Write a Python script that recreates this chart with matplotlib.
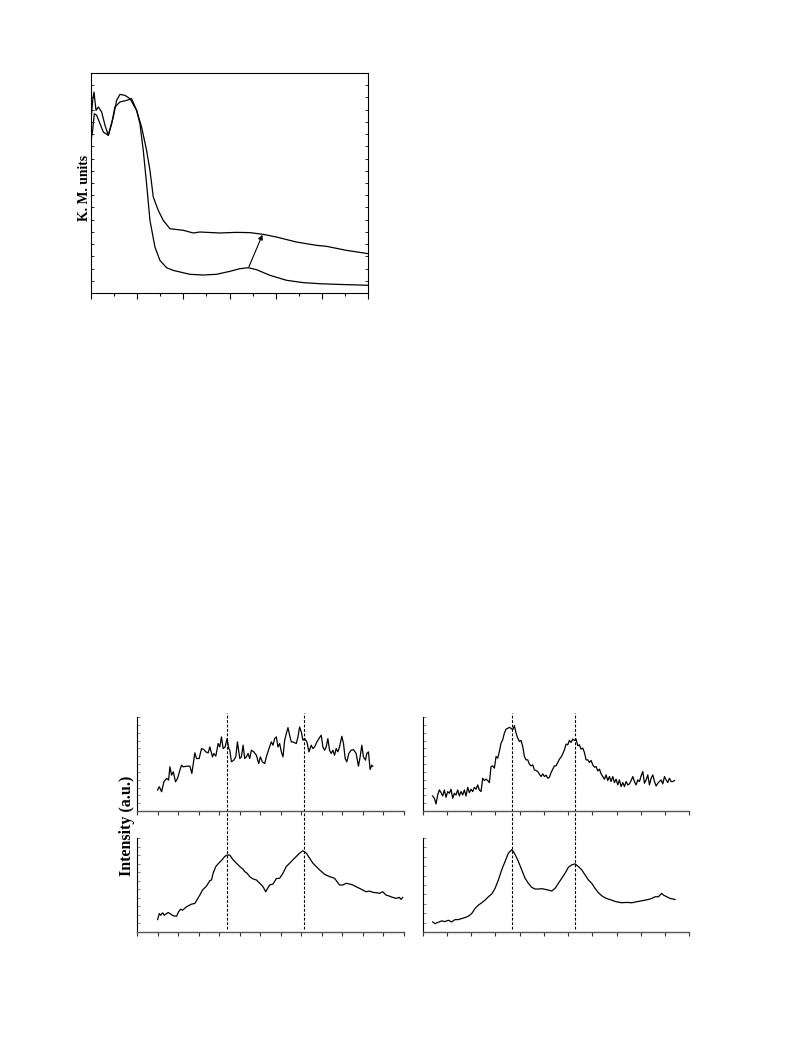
import numpy as np
import matplotlib
matplotlib.use("Agg")
import matplotlib.pyplot as plt
from matplotlib.ticker import MultipleLocator, NullFormatter

# ---------------- data: top chart (K. M. spectrum) ----------------
uv_x_a = [200, 203.6, 206.5, 210.8, 215.9, 223.1, 230.3, 237.5, 244.7, 251.9, 262.7, 277.2,
          288.0, 298.8, 309.6, 320.4, 327.7, 334.9, 345.7, 356.5, 370.9, 399.8, 421.4, 435.8,
          479.1, 515.2, 544.0, 572.9, 601.7, 645.0, 688.2, 709.9, 753.2, 800]
uv_y_a = [14.13, 15.76, 16.44, 14.94, 15.22, 14.81, 13.72, 12.90, 13.85, 15.22, 15.63, 15.76,
          15.90, 14.94, 13.58, 11.67, 10.04, 7.85, 6.76, 5.94, 5.26, 5.13, 4.91, 4.99,
          4.91, 4.96, 4.94, 4.80, 4.58, 4.17, 3.90, 3.82, 3.49, 3.22]
uv_x_b = [200, 203.6, 207.2, 212.3, 219.5, 226.7, 237.5, 248.3, 255.5, 262.7, 273.6, 284.4,
          298.8, 306.0, 313.2, 320.4, 327.7, 338.5, 349.3, 363.7, 378.1, 414.2, 443.0, 471.9,
          500.7, 522.4, 540.4, 558.4, 587.3, 623.4, 659.4, 695.5, 731.5, 800]
uv_y_b = [12.49, 13.31, 14.67, 14.54, 13.85, 13.17, 12.90, 14.40, 15.76, 16.25, 16.17, 15.90,
          14.94, 13.85, 11.67, 8.94, 5.94, 3.76, 2.67, 2.07, 1.85, 1.53, 1.47, 1.53,
          1.77, 1.99, 2.07, 1.91, 1.45, 1.04, 0.85, 0.76, 0.71, 0.63]
arrow_start = (541.9, 2.13)
arrow_end = (571.4, 4.77)

# ---------------- data: bottom-left pair ----------------
bl_top_x = [14.96, 15.37, 15.93, 16.50, 17.15, 17.64, 17.96, 18.37, 18.78, 19.34, 19.83, 20.40,
            20.81, 21.21, 22.02, 22.84, 23.32, 24.05, 24.46, 25.11, 25.68, 26.25, 26.73, 27.30,
            27.71, 28.36, 28.68, 29.17, 29.74, 30.14, 30.55, 30.96, 31.44, 31.93, 32.34, 32.58,
            32.99, 33.55, 34.04, 34.45, 35.02, 35.42, 35.83, 36.23, 36.64, 37.05, 37.45, 37.86,
            38.43, 39.08, 39.64, 40.05, 40.54, 41.11, 41.51, 42.16, 42.73, 43.14, 43.54, 43.95,
            44.35, 44.76, 45.17, 45.57, 45.98, 46.38, 46.79, 47.20, 47.60, 48.01, 48.82, 49.23,
            49.63, 50.04, 50.44, 50.85, 51.42, 51.91, 52.47, 52.88, 53.29, 53.85, 54.50, 54.91,
            55.32, 55.72, 56.13, 56.53, 56.94, 57.35, 57.75, 58.16, 58.56, 58.97, 59.38, 59.94,
            60.35, 60.76, 61.16, 61.65, 62.22, 62.79, 63.44, 64.00, 64.41, 64.82, 65.22, 65.71,
            66.04, 66.44, 66.85, 67.25, 67.50]
bl_top_y = [2.67, 3.10, 2.46, 3.73, 4.16, 3.94, 5.64, 4.58, 5.00, 3.73, 4.16, 5.22,
            5.85, 5.64, 5.72, 5.72, 4.79, 7.42, 6.70, 6.70, 7.97, 7.84, 7.55, 7.42,
            8.18, 6.91, 7.34, 7.00, 8.61, 8.18, 9.46, 7.97, 8.18, 9.24, 7.97, 7.76,
            6.28, 6.49, 6.91, 8.82, 6.70, 6.91, 8.40, 6.70, 6.91, 7.34, 6.70, 7.76,
            7.55, 7.12, 6.06, 6.91, 6.28, 6.06, 6.91, 7.97, 8.82, 8.40, 9.24, 9.46,
            8.18, 8.61, 7.55, 6.91, 9.03, 9.88, 10.64, 9.67, 8.82, 8.82, 8.61, 9.46,
            10.73, 10.09, 9.03, 9.24, 8.82, 7.55, 8.40, 7.97, 8.18, 8.82, 9.37, 9.67,
            8.18, 7.76, 8.18, 9.24, 7.76, 7.34, 7.76, 7.12, 7.97, 7.55, 8.18, 9.54,
            8.61, 6.70, 6.28, 7.34, 7.76, 7.84, 7.34, 5.72, 6.91, 8.40, 6.91, 6.49,
            7.34, 7.55, 5.30, 5.85, 5.72]
bl_bot_x = [14.96, 15.37, 15.69, 16.18, 16.58, 17.15, 17.56, 17.96, 18.78, 19.59, 20.08, 20.56,
            21.05, 22.02, 23.24, 24.05, 24.62, 25.27, 25.92, 26.90, 27.71, 28.12, 28.52, 29.17,
            29.74, 30.55, 31.36, 31.93, 32.58, 33.39, 34.20, 35.02, 35.83, 36.23, 36.80, 37.45,
            38.26, 39.08, 39.89, 40.70, 41.35, 41.92, 42.32, 43.14, 43.95, 44.76, 45.57, 46.38,
            47.20, 48.01, 48.82, 49.63, 50.44, 51.26, 52.07, 52.88, 53.69, 54.50, 55.72, 56.94,
            58.16, 59.38, 60.19, 61.00, 61.82, 62.63, 63.44, 64.25, 65.06, 65.88, 66.69, 67.50,
            68.31, 69.12, 69.93, 70.74, 71.56, 72.37, 73.18, 73.99, 74.40, 74.80]
bl_bot_y = [1.45, 2.16, 1.96, 2.24, 1.96, 2.16, 2.28, 2.16, 1.89, 1.85, 2.36, 2.67,
            2.55, 2.95, 3.26, 3.34, 3.81, 4.32, 4.91, 5.38, 6.01, 6.09, 6.88, 7.66,
            7.98, 8.37, 8.84, 9.00, 9.00, 8.45, 8.05, 7.66, 7.35, 7.07, 6.88, 6.48,
            6.21, 6.09, 5.70, 5.30, 4.71, 5.19, 5.50, 5.62, 6.25, 6.29, 6.88, 7.66,
            8.05, 8.45, 8.84, 9.23, 9.51, 9.23, 8.64, 8.05, 7.66, 7.27, 6.76, 6.48,
            6.29, 5.50, 5.50, 5.70, 5.62, 5.50, 5.30, 5.11, 4.91, 4.71, 4.79, 4.64,
            4.60, 4.52, 4.71, 4.32, 4.20, 4.05, 3.93, 4.05, 3.81, 4.05]
bl_peaks = [31.9, 50.7]

# ---------------- data: bottom-right pair ----------------
br_top_start = 12.06
br_top_step = 0.344
br_top_y = [1.92, 1.62, 0.90, 2.05, 2.69, 2.35, 1.92, 2.69, 1.75, 2.48, 2.26, 2.78,
            1.62, 2.26, 2.05, 2.69, 1.92, 2.48, 2.05, 2.69, 1.92, 3.03, 2.35, 2.78,
            2.48, 3.03, 2.78, 3.33, 2.69, 2.48,
            4.18, 3.89, 4.06, 3.89, 3.63, 5.68, 5.76, 5.47, 6.96, 6.75, 7.60, 8.67,
            9.10, 9.95, 10.46, 10.55, 10.68, 10.55, 10.38, 10.89, 9.95, 9.31, 8.88, 9.01,
            8.24, 6.96, 6.53, 6.53, 5.98, 5.76, 5.89, 5.25, 5.17, 5.04, 4.70, 4.40,
            4.74, 4.40, 4.57, 4.18, 4.31, 4.91, 5.34, 5.76, 5.76, 6.19, 6.62, 6.87,
            7.30, 7.81, 8.54, 8.45, 9.01, 8.75, 9.18, 9.01, 9.18, 8.33, 8.45, 7.90,
            8.03, 7.47, 6.53, 6.53, 6.19, 6.45, 5.89, 5.59, 5.68, 5.12, 5.34, 4.74,
            4.40, 4.06, 4.61, 3.89, 4.40, 3.76, 4.40, 3.63, 4.06, 3.33, 3.97, 3.12,
            3.63, 3.12, 3.76, 3.33, 3.46, 3.89, 4.40, 3.76, 3.33, 3.97, 3.76, 4.48,
            5.04, 3.54, 3.97, 4.61, 3.33, 4.18, 4.61, 3.76, 3.20, 3.54, 3.76, 3.97,
            3.46, 4.40, 3.97, 3.63, 4.18, 3.76, 3.76, 3.89]
br_bot_x = [12.06, 12.54, 13.23, 13.92, 14.61, 15.30, 15.98, 16.67, 17.36, 18.05, 18.74, 19.42,
            20.11, 20.80, 21.49, 22.17, 22.86, 23.55, 24.24, 24.93, 25.61, 26.30, 26.99, 27.68,
            28.02, 28.36, 28.71, 29.26, 29.74, 30.43, 31.12, 31.80, 32.49, 33.18, 33.87, 34.56,
            35.24, 35.93, 36.62, 37.31, 37.99, 38.68, 39.37, 40.06, 40.74, 41.43, 42.12, 42.81,
            43.50, 44.18, 44.87, 45.56, 46.25, 46.93, 47.62, 48.31, 49.00, 49.69, 50.37, 51.06,
            51.75, 52.44, 53.13, 53.81, 54.50, 55.19, 55.88, 56.56, 57.25, 57.94, 58.63, 58.97,
            59.31, 59.66, 60.35, 61.03, 62.07]
br_bot_y = [1.07, 0.89, 1.04, 1.18, 1.11, 1.25, 1.07, 1.32, 1.32, 1.43, 1.54, 1.68,
            1.96, 2.50, 2.86, 3.11, 3.39, 3.75, 4.04, 4.64, 5.54, 6.61, 7.50, 8.39,
            8.57, 8.75, 8.57, 8.04, 7.50, 6.61, 5.71, 5.18, 4.75, 4.57, 4.57, 4.61,
            4.54, 4.46, 4.36, 4.64, 5.18, 5.71, 6.25, 6.89, 7.14, 7.25, 6.96, 6.61,
            6.07, 5.54, 5.18, 4.64, 4.18, 3.86, 3.64, 3.50, 3.39, 3.25, 3.18, 3.11,
            3.14, 3.14, 3.11, 3.18, 3.25, 3.32, 3.39, 3.46, 3.57, 3.75, 3.75, 3.93,
            4.11, 3.93, 3.75, 3.57, 3.46]
br_peaks = [28.5, 41.4]

# ---------------- figure ----------------
W, H = 793, 1057
fig = plt.figure(figsize=(W / 100, H / 100), dpi=100)
serif = ["Liberation Serif", "DejaVu Serif"]
LW = 0.9


def fbox(l, t, r, b):
    return [l / W, 1 - b / H, (r - l) / W, (b - t) / H]


# top chart
ax = fig.add_axes(fbox(91, 73, 368, 293))
ax.plot(uv_x_a, uv_y_a, color="black", lw=LW)
ax.plot(uv_x_b, uv_y_b, color="black", lw=LW)
ax.annotate("", xy=arrow_end, xytext=arrow_start,
            arrowprops=dict(arrowstyle="-|>", color="black", lw=0.8,
                            mutation_scale=7, shrinkA=0, shrinkB=0))
ax.set_xlim(200, 800)
ax.set_ylim(0, 18)
ax.xaxis.set_major_locator(MultipleLocator(100))
ax.xaxis.set_minor_locator(MultipleLocator(50))
ax.yaxis.set_major_locator(MultipleLocator(2))
ax.yaxis.set_minor_locator(MultipleLocator(1))
ax.tick_params(axis="x", which="major", direction="out", length=4, width=0.8,
               labelbottom=False)
ax.tick_params(axis="x", which="minor", direction="out", length=2.5, width=0.8)
ax.tick_params(axis="y", which="both", direction="in", length=2, width=0.6,
               left=True, right=True, labelleft=False)
for s in ax.spines.values():
    s.set_linewidth(0.8)
fig.text(84 / W, 1 - 188 / H, "K. M. units", rotation=90, ha="center", va="center",
         family=serif, fontweight="bold", fontsize=9.8)


def xrd_panel(box, xs, ys, xlim, ylim, peaks, top_panel, gap_frac):
    a = fig.add_axes(fbox(*box))
    a.plot(xs, ys, color="black", lw=LW)
    a.set_xlim(*xlim)
    a.set_ylim(*ylim)
    a.spines["top"].set_visible(False)
    a.spines["right"].set_visible(False)
    a.spines["left"].set_linewidth(0.8)
    a.spines["bottom"].set_linewidth(1.0)
    a.spines["bottom"].set_color("#555555")
    a.xaxis.set_major_locator(MultipleLocator(10))
    a.xaxis.set_minor_locator(MultipleLocator(5))
    a.yaxis.set_major_locator(MultipleLocator(1))
    a.xaxis.set_major_formatter(NullFormatter())
    a.yaxis.set_major_formatter(NullFormatter())
    a.tick_params(axis="x", which="major", direction="out", length=3, width=0.8, color="#333333")
    a.tick_params(axis="x", which="minor", direction="out", length=3, width=0.8, color="#333333")
    a.tick_params(axis="y", which="both", direction="in", length=2, width=0.5, color="#555555")
    for p in peaks:
        if top_panel:
            a.axvline(p, ymin=-gap_frac, ymax=1.04, color="black", lw=0.8,
                      ls=(0, (2.5, 1.5)), clip_on=False)
        else:
            a.axvline(p, ymin=0.03, ymax=1.0, color="black", lw=0.8,
                      ls=(0, (2.5, 1.5)), clip_on=False)
    return a


gap = (838 - 811) / (811 - 717)
xrd_panel((137.3, 717, 403.5, 811), bl_top_x, bl_top_y, (10, 75), (0, 12), bl_peaks, True, gap)
xrd_panel((137.3, 838, 403.5, 932), bl_bot_x, bl_bot_y, (10, 75), (0, 11), bl_peaks, False, gap)

br_top_x = [br_top_start + br_top_step * i for i in range(len(br_top_y))]
xrd_panel((422.7, 717, 689.3, 811), br_top_x, br_top_y, (10, 65), (0, 12), br_peaks, True, gap)
xrd_panel((422.7, 838, 689.3, 932), br_bot_x, br_bot_y, (10, 65), (0, 10), br_peaks, False, gap)

fig.text(127 / W, 1 - 826 / H, "Intensity (a.u.)", rotation=90, ha="center", va="center",
         family=serif, fontweight="bold", fontsize=11.5)

fig.savefig("out.png", dpi=100)
